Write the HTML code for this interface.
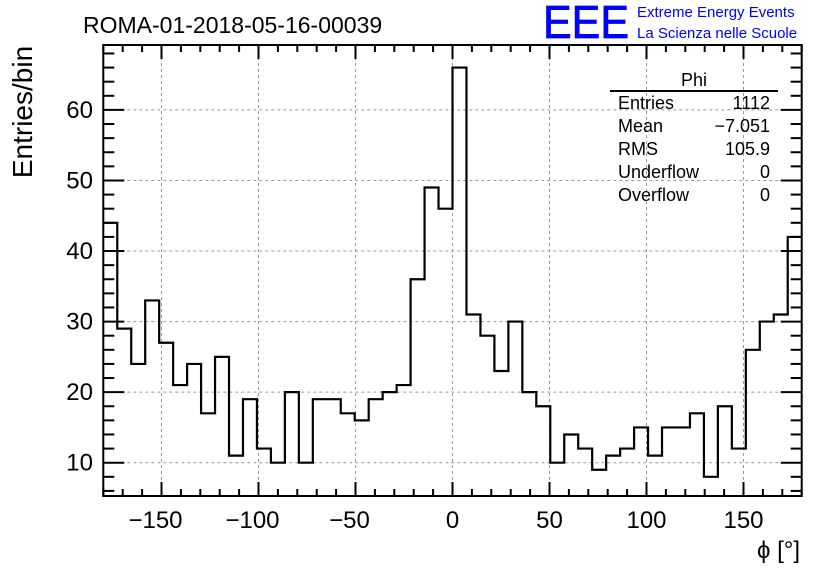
<!DOCTYPE html>
<html><head><meta charset="utf-8"><style>
body{margin:0;background:#fff}
svg{display:block;font-family:"Liberation Sans",sans-serif}
</style></head><body>
<svg id="c" width="836" height="572">
<rect width="836" height="572" fill="#fff"/>
<g id="grid"></g>
<g id="hist"></g>
<g id="axes"></g>
<text x="83" y="33" font-size="23">ROMA-01-2018-05-16-00039</text>
<text x="543" y="38" font-size="46" fill="#0000ff" stroke="#0000ff" stroke-width="0.8" textLength="86" lengthAdjust="spacingAndGlyphs">EEE</text>
<text x="637" y="17" font-size="15" fill="#0000ff">Extreme Energy Events</text>
<text x="637" y="38" font-size="15" fill="#0000ff">La Scienza nelle Scuole</text>
<g font-size="18">
<text x="694" y="86" text-anchor="middle">Phi</text>
<line x1="610" y1="91" x2="778" y2="91" stroke="#000" stroke-width="2"/>
<text x="618" y="109">Entries</text><text x="770" y="109" text-anchor="end">1112</text>
<text x="618" y="132">Mean</text><text x="770" y="132" text-anchor="end">−7.051</text>
<text x="618" y="155">RMS</text><text x="770" y="155" text-anchor="end">105.9</text>
<text x="618" y="178">Underflow</text><text x="770" y="178" text-anchor="end">0</text>
<text x="618" y="201">Overflow</text><text x="770" y="201" text-anchor="end">0</text>
</g>
<text transform="translate(32,112) rotate(-90)" font-size="28" text-anchor="middle">Entries/bin</text>
<text x="800" y="558" font-size="24" text-anchor="end">ϕ [°]</text>
</svg>
<script>
const counts=[44,29,24,33,27,21,24,17,25,11,19,12,10,20,10,19,19,17,16,19,20,21,36,49,46,66,31,28,23,30,20,18,10,14,12,9,11,12,15,11,15,15,17,8,18,12,26,30,31,42];
const xTicks=[-150,-100,-50,0,50,100,150];
const yTicks=[10,20,30,40,50,60];
const xMin=-180,xMax=180,yMin=5.28,yMax=69.2;
const L=103.3,R=801.7,T=45,B=496;
const X=v=>L+(v-xMin)/(xMax-xMin)*(R-L);
const Y=v=>B-(v-yMin)/(yMax-yMin)*(B-T);
const NS="http://www.w3.org/2000/svg";
function mk(tag,attrs,parent){const e=document.createElementNS(NS,tag);for(const k in attrs)e.setAttribute(k,attrs[k]);parent.appendChild(e);return e;}
const grid=document.getElementById('grid'),axes=document.getElementById('axes'),hist=document.getElementById('hist');
xTicks.forEach(t=>{const g=mk('line',{x1:X(t),x2:X(t),y1:T,y2:B,stroke:'#999','stroke-dasharray':'3,3'},grid);

});
yTicks.forEach(t=>{const g=mk('line',{x1:L,x2:R,y1:Y(t),y2:Y(t),stroke:'#999','stroke-dasharray':'3,3'},grid);

});
const bw=(xMax-xMin)/counts.length;
let d='M'+X(xMin)+','+Y(counts[0]);
counts.forEach((c,i)=>{const x0=X(xMin+i*bw),x1=X(xMin+(i+1)*bw);
if(i>0)d+=' L'+x0+','+Y(c);d+=' L'+x1+','+Y(c);});
const p=mk('path',{d:d,fill:'none',stroke:'#000','stroke-width':2.2},hist);


const fr=mk('rect',{x:L,y:T,width:R-L,height:B-T,fill:'none',stroke:'#000','stroke-width':2},axes);


for(let v=-180;v<=180;v+=10){const maj=v%50===0,len=maj?14:7;
mk('line',{x1:X(v),x2:X(v),y1:B,y2:B-len,stroke:'#000','stroke-width':2},axes);
mk('line',{x1:X(v),x2:X(v),y1:T,y2:T+len,stroke:'#000','stroke-width':2},axes);}
for(let v=6;v<=68;v+=2){const maj=v%10===0,len=maj?21:11;
mk('line',{x1:L,x2:L+len,y1:Y(v),y2:Y(v),stroke:'#000','stroke-width':2},axes);
mk('line',{x1:R,x2:R-len,y1:Y(v),y2:Y(v),stroke:'#000','stroke-width':2},axes);}
xTicks.forEach(t=>{const e=mk('text',{x:X(t)+(t<0?-6:0),y:528,'font-size':24,'text-anchor':'middle'},axes);e.textContent=t<0?'−'+(-t):String(t);

});
yTicks.forEach(t=>{const e=mk('text',{x:93,y:Y(t)+8,'font-size':24,'text-anchor':'end'},axes);e.textContent=String(t);

});
</script>
</body></html>
